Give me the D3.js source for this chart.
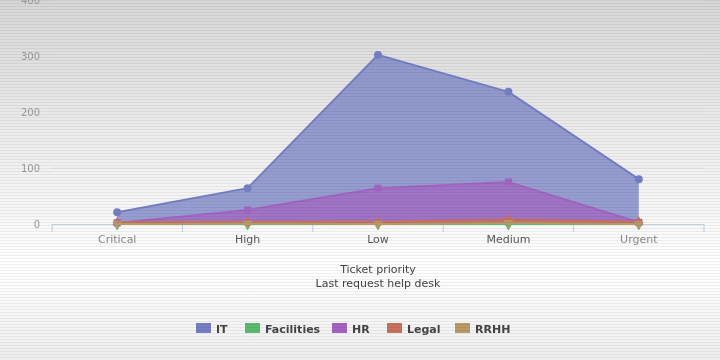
<!DOCTYPE html>
<html>
<head>
<meta charset="utf-8">
<script src="https://cdn.jsdelivr.net/npm/d3@7"></script>
<style>
  body { margin: 0; background: #fff; }
  svg { display: block; font-family: "Lucida Grande", "DejaVu Sans", "Open Sans", sans-serif; }
</style>
</head>
<body>
<div id="chart"></div>
<script>
var categories = ["Critical", "High", "Low", "Medium", "Urgent"];
var seriesNames = ["IT", "Facilities", "HR", "Legal", "RRHH"];
var itValues = [21, 64, 302, 236, 80];
var facilitiesValues = [0, 0, 0, 0, 0];
var hrValues = [2, 25, 64, 75, 3];
var legalValues = [3, 4, 4, 8, 4];
var rrhhValues = [0, 1, 0, 2, 0];
var yTicks = [0, 100, 200, 300, 400];
var xTitle = ["Ticket priority", "Last request help desk"];

function renderChart(el) {
  var width = 720, height = 360;
  var colors = ["#7580c4", "#5cba70", "#a265c2", "#c9705f", "#b89a66"];
  var symbols = [d3.symbolCircle, d3.symbolDiamond, d3.symbolSquare, d3.symbolTriangle, d3.symbolTriangle];
  var values = [itValues, facilitiesValues, hrValues, legalValues, rrhhValues];

  var svg = d3.select(el).append("svg")
      .attr("width", width)
      .attr("height", height);

  var defs = svg.append("defs");
  var bg = defs.append("linearGradient").attr("id", "bg")
      .attr("x1", 0).attr("y1", 0).attr("x2", 0).attr("y2", 1);
  bg.append("stop").attr("offset", "0%").attr("stop-color", "#d6d6d6");
  bg.append("stop").attr("offset", "45%").attr("stop-color", "#f0f0f0");
  bg.append("stop").attr("offset", "75%").attr("stop-color", "#ffffff");
  bg.append("stop").attr("offset", "100%").attr("stop-color", "#eeeeee");

  var lines = defs.append("pattern").attr("id", "scan")
      .attr("width", 4).attr("height", 3)
      .attr("patternUnits", "userSpaceOnUse");
  lines.append("rect").attr("width", 4).attr("height", 1)
      .attr("fill", "#000").attr("opacity", 0.06);

  defs.append("filter").attr("id", "soft")
    .append("feGaussianBlur").attr("stdDeviation", 0.7);

  svg.append("rect").attr("width", width).attr("height", height).attr("fill", "url(#bg)");

  var g = svg.append("g").attr("filter", "url(#soft)");

  // scales
  var x = d3.scalePoint().domain(categories).range([52, 704]).padding(0.5);
  var y = d3.scaleLinear().domain([0, 400]).range([224, 0]);
  var step = x.step();

  // grid lines
  g.selectAll(".grid")
      .data(yTicks.slice(1))
    .enter().append("line")
      .attr("x1", 52).attr("x2", 704)
      .attr("y1", function(d) { return y(d); })
      .attr("y2", function(d) { return y(d); })
      .attr("stroke", "#e2e2e2");

  // y labels
  g.selectAll(".ylab")
      .data(yTicks)
    .enter().append("text")
      .attr("x", 40)
      .attr("y", function(d) { return y(d) + 4; })
      .attr("text-anchor", "end")
      .attr("font-size", 10)
      .attr("fill", "#999")
      .text(function(d) { return d; });

  // x axis
  g.append("line")
      .attr("x1", 52).attr("x2", 704)
      .attr("y1", y(0) + 0.5).attr("y2", y(0) + 0.5)
      .attr("stroke", "#c0d0e0");
  g.selectAll(".xtick")
      .data(d3.range(categories.length + 1))
    .enter().append("line")
      .attr("x1", function(i) { return 52 + i * step; })
      .attr("x2", function(i) { return 52 + i * step; })
      .attr("y1", y(0))
      .attr("y2", y(0) + 8)
      .attr("stroke", "#c0d0e0");

  // areas, lines and markers, one series after another
  var area = d3.area()
      .x(function(d, i) { return x(categories[i]); })
      .y0(y(0))
      .y1(function(d) { return y(d); });
  var line = d3.line()
      .x(function(d, i) { return x(categories[i]); })
      .y(function(d) { return y(d); });

  values.forEach(function(vals, s) {
    var sg = g.append("g");
    sg.append("path")
      .attr("d", area(vals))
      .attr("fill", colors[s])
      .attr("fill-opacity", 0.75);
    sg.append("path")
      .attr("d", line(vals))
      .attr("fill", "none")
      .attr("stroke", colors[s])
      .attr("stroke-width", 2);
    sg.selectAll(".m")
        .data(vals)
      .enter().append("path")
        .attr("d", d3.symbol().type(symbols[s]).size(s >= 3 ? 40 : 50))
        .attr("transform", function(d, i) {
          return "translate(" + x(categories[i]) + "," + y(d) + ")" + (s === 4 ? " rotate(180)" : "");
        })
        .attr("fill", colors[s]);
  });

  g.selectAll(".xlab")
      .data(categories)
    .enter().append("text")
      .attr("x", function(d) { return x(d); })
      .attr("y", 243)
      .attr("text-anchor", "middle")
      .attr("font-size", 11)
      .attr("fill", function(d, i) { return (i === 0 || i === 4) ? "#8a8a8a" : "#555"; })
      .text(function(d) { return d; });

  // axis title
  g.selectAll(".xtitle")
      .data(xTitle)
    .enter().append("text")
      .attr("x", 378)
      .attr("y", function(d, i) { return 273 + i * 14; })
      .attr("text-anchor", "middle")
      .attr("font-size", 11)
      .attr("fill", "#444")
      .text(function(d) { return d; });

  // legend
  var legendX = [196, 245, 332, 387, 455];
  var leg = g.selectAll(".legend")
      .data(seriesNames)
    .enter().append("g")
      .attr("transform", function(d, i) { return "translate(" + legendX[i] + ",323)"; });
  leg.append("rect")
      .attr("width", 15).attr("height", 10)
      .attr("fill", function(d, i) { return colors[i]; });
  leg.append("text")
      .attr("x", 20).attr("y", 9.5)
      .attr("font-size", 11)
      .attr("font-weight", "bold")
      .attr("fill", "#444")
      .text(function(d) { return d; });

  // scan lines over everything
  svg.append("rect").attr("width", width).attr("height", height).attr("fill", "url(#scan)");
}

renderChart("#chart");
</script>
</body>
</html>
